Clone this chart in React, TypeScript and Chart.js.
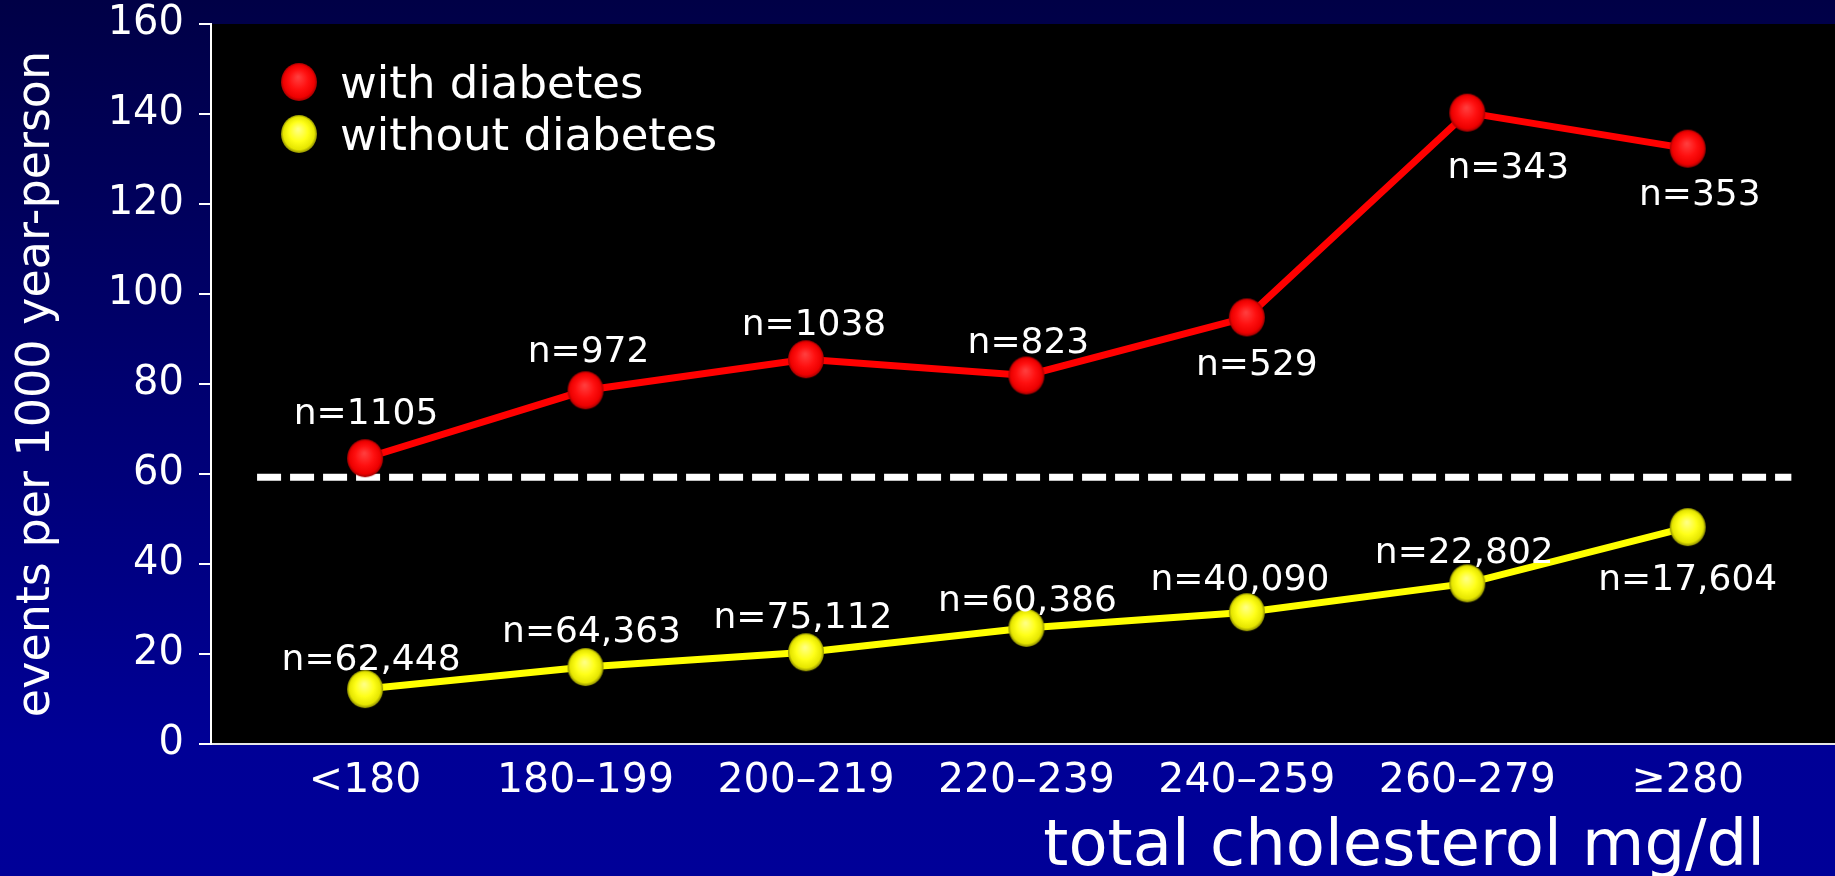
import React, { useEffect, useRef } from "react";
import { Chart, registerables } from "chart.js";

Chart.register(...registerables);

const FONT = "'DejaVu Sans', Verdana, sans-serif";

// Cholesterol bands on the x axis
const categories = ["<180", "180–199", "200–219", "220–239", "240–259", "260–279", "≥280"];

// Events per 1000 person-years
const withDiabetes = [63.5, 78.6, 85.5, 81.9, 94.8, 140.3, 132.3];
const withoutDiabetes = [12.2, 17.1, 20.4, 25.8, 29.3, 35.7, 48.2];

// Group sizes printed next to each marker
const withDiabetesN = ["n=1105", "n=972", "n=1038", "n=823", "n=529", "n=343", "n=353"];
const withoutDiabetesN = ["n=62,448", "n=64,363", "n=75,112", "n=60,386", "n=40,090", "n=22,802", "n=17,604"];

// Dashed reference level
const referenceLevel = 59.3;

const yTicks = [0, 20, 40, 60, 80, 100, 120, 140, 160];
const seriesNames = ["with diabetes", "without diabetes"];
const yTitle = "events per 1000 year-person";
const xTitle = "total cholesterol mg/dl";

// Where each group-size label sits relative to its marker: [dx, baseline dy] in px
const withLabelOffsets = [[1, -34], [3, -28], [8, -24], [2, -22], [10, 58], [41, 65], [12, 56]];
const withoutLabelOffsets = [[6, -19], [6, -25], [-3, -24], [1, -17], [-7, -22], [-3, -20], [0, 63]];

// Glossy ball used as the point marker
function makeSphere(rx: number, ry: number, stops: [number, string][]): HTMLCanvasElement {
  const c = document.createElement("canvas");
  c.width = Math.ceil(rx * 2) + 2;
  c.height = Math.ceil(ry * 2) + 2;
  const g = c.getContext("2d")!;
  const cx = c.width / 2;
  const cy = c.height / 2;
  g.save();
  g.translate(cx, cy);
  g.scale(rx / ry, 1);
  const grad = g.createRadialGradient(-ry * 0.05, -ry * 0.25, ry * 0.05, 0, 0, ry);
  stops.forEach(([o, col]) => grad.addColorStop(o, col));
  g.beginPath();
  g.arc(0, 0, ry, 0, Math.PI * 2);
  g.fillStyle = grad;
  g.fill();
  g.restore();
  return c;
}

export default function App() {
  const canvasRef = useRef<HTMLCanvasElement | null>(null);

  useEffect(() => {
    if (!canvasRef.current) return;
    Chart.defaults.font.family = FONT;

    const redBall = makeSphere(18, 19, [
      [0, "#ff3c3c"],
      [0.5, "#ff1010"],
      [0.85, "#ee0000"],
      [1, "#a00000"],
    ]);
    const yellowBall = makeSphere(18, 19, [
      [0, "#ffff80"],
      [0.5, "#ffff18"],
      [0.85, "#e6e600"],
      [1, "#8c8c00"],
    ]);

    const backdrop = {
      id: "backdrop",
      beforeDraw(chart: any) {
        const { ctx, width, height, chartArea } = chart;
        ctx.save();
        const g = ctx.createLinearGradient(0, 0, 0, height);
        g.addColorStop(0, "#000046");
        g.addColorStop(0.85, "#000096");
        g.addColorStop(1, "#000098");
        ctx.fillStyle = g;
        ctx.fillRect(0, 0, width, height);
        ctx.fillStyle = "#000000";
        ctx.fillRect(chartArea.left, chartArea.top, width - chartArea.left, chartArea.bottom - chartArea.top);
        ctx.restore();
      },
    };

    const groupLabels = {
      id: "groupLabels",
      afterDatasetsDraw(chart: any) {
        const { ctx } = chart;
        const sets: [number, string[], number[][]][] = [
          [0, withDiabetesN, withLabelOffsets],
          [1, withoutDiabetesN, withoutLabelOffsets],
        ];
        ctx.save();
        ctx.fillStyle = "#ffffff";
        ctx.font = `36px ${FONT}`;
        ctx.textAlign = "center";
        ctx.textBaseline = "alphabetic";
        sets.forEach(([di, texts, offs]) => {
          const meta = chart.getDatasetMeta(di);
          meta.data.forEach((pt: any, i: number) => {
            ctx.fillText(texts[i], pt.x + offs[i][0], pt.y + offs[i][1]);
          });
        });
        ctx.restore();
      },
    };

    const legendAndTitle = {
      id: "legendAndTitle",
      afterDraw(chart: any) {
        const { ctx, chartArea, height } = chart;
        ctx.save();
        const balls = [redBall, yellowBall];
        ctx.fillStyle = "#ffffff";
        ctx.font = `45px ${FONT}`;
        ctx.textAlign = "left";
        ctx.textBaseline = "alphabetic";
        [0, 1].forEach((i) => {
          const cy = chartArea.top + 58 + i * 52;
          const b = balls[i];
          ctx.drawImage(b, chartArea.left + 88 - b.width / 2, cy - b.height / 2);
          ctx.fillText(chart.data.datasets[i].label, chartArea.left + 129, cy + 16);
        });
        ctx.font = `64px ${FONT}`;
        ctx.textAlign = "right";
        ctx.fillText(xTitle, chart.width - 70, height - 11);
        ctx.restore();
      },
    };

    const chart = new Chart(canvasRef.current, {
      type: "line",
      data: {
        datasets: [
          {
            label: seriesNames[0],
            data: categories.map((_, i) => ({ x: i, y: withDiabetes[i] })),
            borderColor: "#ff0000",
            borderWidth: 7,
            pointStyle: redBall as any,
            pointRadius: 19,
            order: 1,
          },
          {
            label: seriesNames[1],
            data: categories.map((_, i) => ({ x: i, y: withoutDiabetes[i] })),
            borderColor: "#ffff00",
            borderWidth: 7,
            pointStyle: yellowBall as any,
            pointRadius: 19,
            order: 2,
          },
          {
            label: "reference",
            data: [
              { x: -0.49, y: referenceLevel },
              { x: 6.47, y: referenceLevel },
            ],
            borderColor: "#ffffff",
            borderWidth: 7,
            borderDash: [24, 9],
            borderCapStyle: "butt",
            pointRadius: 0,
            order: 3,
          },
        ],
      },
      options: {
        responsive: false,
        animation: false,
        events: [],
        layout: { autoPadding: false, padding: { top: 24, left: 0, right: 0, bottom: 0 } },
        plugins: {
          legend: { display: false },
          tooltip: { enabled: false },
        },
        scales: {
          x: {
            type: "linear",
            min: -0.699,
            max: 6.668,
            afterBuildTicks: (s: any) => {
              s.ticks = categories.map((_, i) => ({ value: i }));
            },
            afterFit: (s: any) => {
              s.height = 132;
              s.paddingLeft = 0;
              s.paddingRight = 0;
            },
            ticks: {
              autoSkip: false,
              maxRotation: 0,
              color: "#ffffff",
              font: { size: 41 },
              padding: 13,
              callback: (v: any) => categories[v] ?? "",
            },
            grid: { drawOnChartArea: false, drawTicks: false },
            border: { color: "#e6e6e6", width: 2 },
          },
          y: {
            type: "linear",
            min: 0,
            max: 160,
            afterBuildTicks: (s: any) => {
              s.ticks = yTicks.map((v) => ({ value: v }));
            },
            afterFit: (s: any) => {
              s.width = 211;
              s.paddingTop = 0;
              s.paddingBottom = 0;
            },
            ticks: { color: "#ffffff", font: { size: 40 }, padding: 15 },
            grid: { drawOnChartArea: false, tickLength: 12, color: "#ffffff", lineWidth: 2 },
            border: { color: "#ffffff", width: 2 },
            title: {
              display: true,
              text: yTitle,
              color: "#ffffff",
              font: { size: 46 },
              padding: { top: 9, bottom: 0 },
            },
          },
        },
      },
      plugins: [backdrop, groupLabels, legendAndTitle],
    } as any);

    return () => chart.destroy();
  }, []);

  return (
    <div style={{ position: "absolute", left: 0, top: 0, width: 1835, height: 876 }}>
      <canvas ref={canvasRef} width={1835} height={876} style={{ display: "block" }} />
    </div>
  );
}
